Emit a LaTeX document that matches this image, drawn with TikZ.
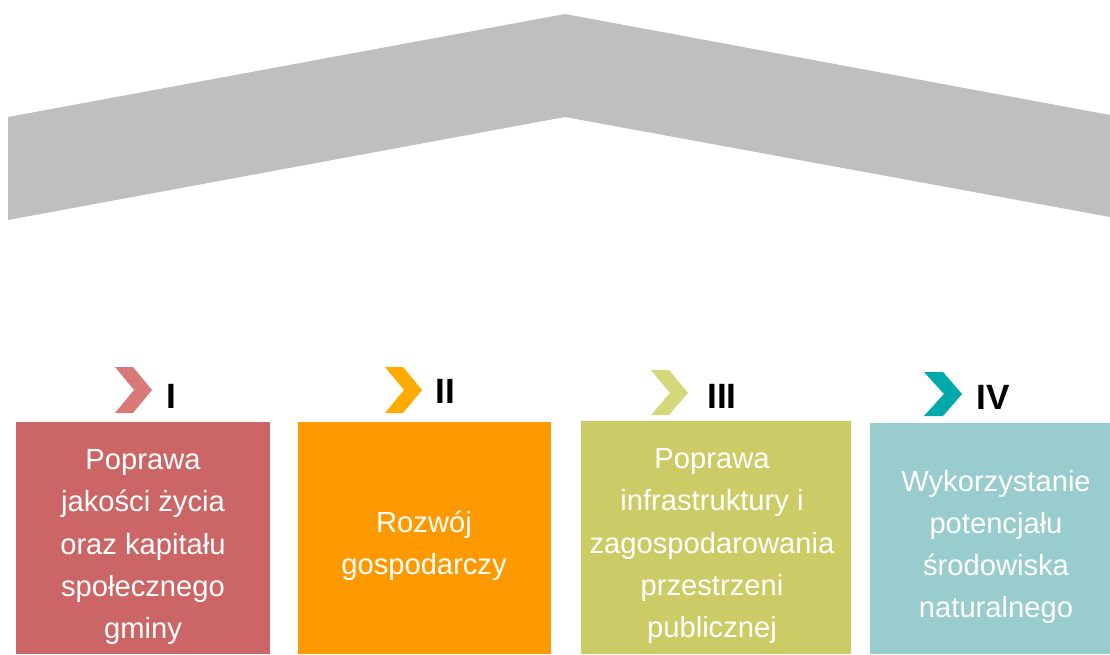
\documentclass[tikz,border=0pt]{standalone}
\usepackage{fontspec}
\setmainfont{Liberation Sans}
\definecolor{dach}{RGB}{191,191,191}
\definecolor{celI}{RGB}{204,102,102}
\definecolor{celII}{RGB}{255,153,0}
\definecolor{celIII}{RGB}{204,204,102}
\definecolor{celIV}{RGB}{153,204,204}
\definecolor{strI}{RGB}{217,122,122}
\definecolor{strII}{RGB}{255,170,0}
\definecolor{strIII}{RGB}{214,214,122}
\definecolor{strIV}{RGB}{0,170,170}

\begin{document}
\begin{tikzpicture}[x=0.02cm,y=-0.02cm,
  opis/.style={text=white,align=center,font=\fontsize{16.6}{24}\selectfont},
  numer/.style={font=\fontsize{20}{22}\selectfont\bfseries}]
\useasboundingbox (0,0) rectangle (1110,654);

% dach
\fill[dach] (8,117) -- (565,14) -- (1110,115) -- (1110,217) -- (565,117) -- (8,220) -- cycle;

% I
\fill[strI] (115,367) -- (133,367) -- (152,390) -- (133,413) -- (115,413) -- (134,390) -- cycle;
\node[numer] (nrI) at (171,396) {I};
\fill[celI] (16,422) rectangle (270,654);
\node[opis] (celI) at (143,547) {Poprawa\\jakości życia\\oraz kapitału\\społecznego\\gminy};

% II
\fill[strII] (385,367) -- (403,367) -- (422,390) -- (403,413) -- (385,413) -- (404,390) -- cycle;
\node[numer] (nrII) at (445,391) {II};
\fill[celII] (298,422) rectangle (551,654);
\node[opis] (celII) at (424,546) {Rozwój\\gospodarczy};

% III
\fill[strIII] (651,370) -- (669,370) -- (688,393) -- (669,415) -- (651,415) -- (670,393) -- cycle;
\node[numer] (nrIII) at (722,396) {III};
\fill[celIII] (581,421) rectangle (851,654);
\node[opis] (celIII) at (712,546) {Poprawa\\infrastruktury i\\zagospodarowania\\przestrzeni\\publicznej};

% IV
\fill[strIV] (924,372) -- (943,372) -- (962,394) -- (943,416) -- (924,416) -- (944,394) -- cycle;
\node[numer] (nrIV) at (993,397) {IV};
\fill[celIV] (870,423) rectangle (1110,654);
\node[opis] (celIV) at (996,547) {Wykorzystanie\\potencjału\\środowiska\\naturalnego};

\end{tikzpicture}
\end{document}
